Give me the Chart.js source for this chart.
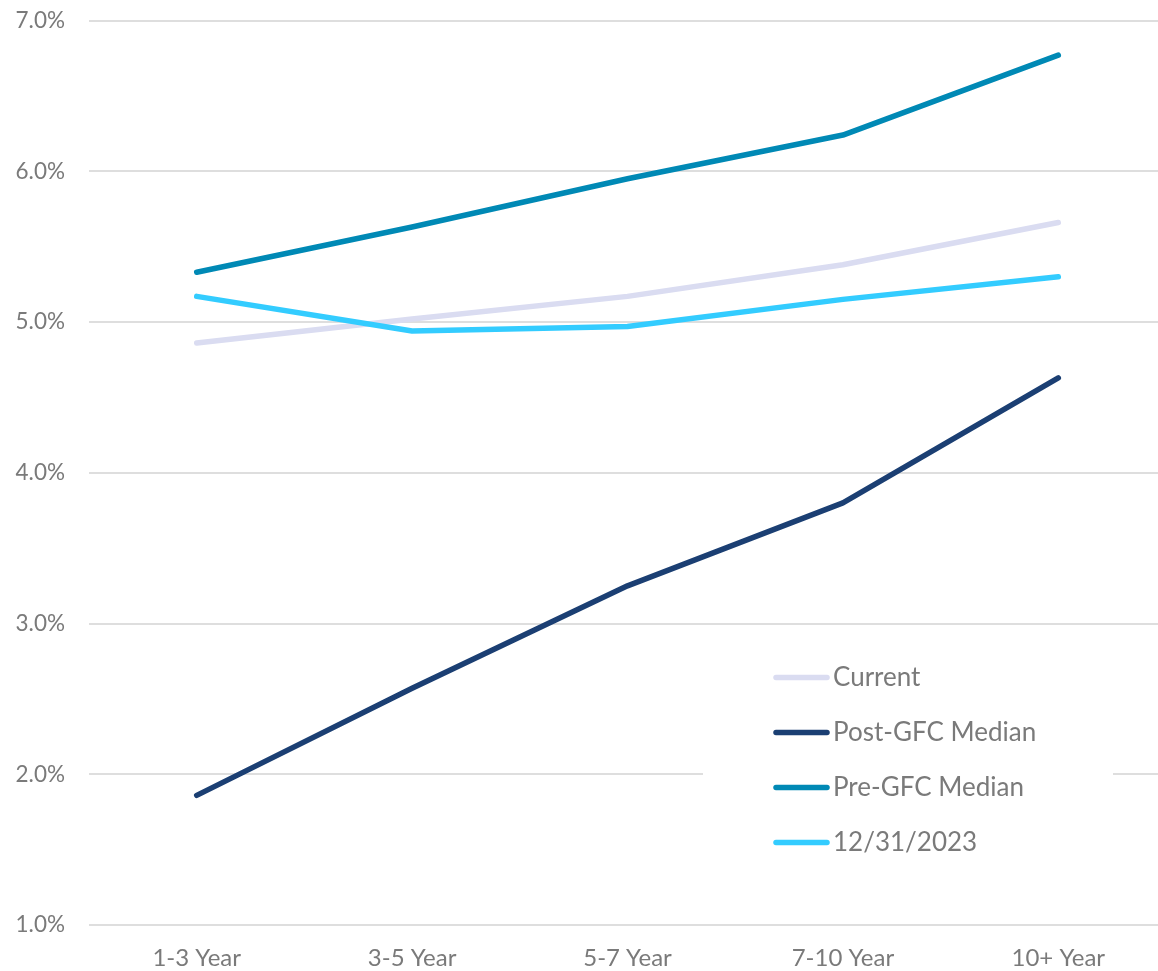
<!DOCTYPE html>
<html>
<head>
<meta charset="utf-8">
<script src="https://cdn.jsdelivr.net/npm/chart.js@4.4.1/dist/chart.umd.min.js"></script>
<style>
  html, body { margin: 0; padding: 0; background: #fff; overflow: hidden; }
  #wrap { position: absolute; left: 0; top: -17px; width: 1166px; height: 988px; }
</style>
</head>
<body>
<div id="wrap"><canvas id="c"></canvas></div>
<script>
// Maturity buckets along the x axis
const categories = ['1-3 Year', '3-5 Year', '5-7 Year', '7-10 Year', '10+ Year'];

// Yields (%) per series
const currentYields = [4.86, 5.02, 5.17, 5.38, 5.66];
const postGfcMedian = [1.86, 2.57, 3.25, 3.80, 4.63];
const preGfcMedian  = [5.33, 5.63, 5.95, 6.24, 6.77];
const yearEnd2023   = [5.17, 4.94, 4.97, 5.15, 5.30];

const seriesNames = ['Current', 'Post-GFC Median', 'Pre-GFC Median', '12/31/2023'];
const seriesColors = ['#dadcf1', '#1b3f73', '#0089b5', '#33ccff'];

const FONT = 'Lato, "Open Sans", sans-serif';
const TEXT_GRAY = '#7a7a7a';

function lineSet(i, values, order) {
  return {
    label: seriesNames[i],
    data: values,
    borderColor: seriesColors[i],
    backgroundColor: seriesColors[i],
    borderWidth: 5.5,
    borderCapStyle: 'round',
    borderJoinStyle: 'round',
    pointRadius: 0,
    pointHoverRadius: 0,
    tension: 0,
    fill: false,
    order: order
  };
}

// Legend drawn inside the plot area on a white panel
const innerLegend = {
  id: 'innerLegend',
  afterDatasetsDraw(chart) {
    const ctx = chart.ctx;
    const dy = chart.chartArea.top - 19; // canvas is shifted up; keep legend in page coordinates
    ctx.save();
    ctx.translate(0, dy);
    ctx.fillStyle = '#ffffff';
    ctx.fillRect(703, 650, 410, 215);
    const x0 = 776, x1 = 827, textX = 833;
    const rows = [676, 731, 786, 841];
    ctx.font = '26px ' + FONT;
    ctx.textBaseline = 'middle';
    ctx.textAlign = 'left';
    seriesNames.forEach((name, i) => {
      ctx.strokeStyle = seriesColors[i];
      ctx.lineWidth = 5.5;
      ctx.lineCap = 'round';
      ctx.beginPath();
      ctx.moveTo(x0, rows[i]);
      ctx.lineTo(x1, rows[i]);
      ctx.stroke();
      ctx.fillStyle = TEXT_GRAY;
      ctx.fillText(name, textX, rows[i]);
    });
    ctx.restore();
  }
};

new Chart(document.getElementById('c'), {
  type: 'line',
  data: {
    labels: categories,
    datasets: [
      lineSet(0, currentYields, 3),
      lineSet(1, postGfcMedian, 2),
      lineSet(2, preGfcMedian, 1),
      lineSet(3, yearEnd2023, 0)
    ]
  },
  options: {
    responsive: true,
    maintainAspectRatio: false,
    animation: false,
    layout: { padding: { top: 8, right: 0, bottom: 0, left: 0 } },
    plugins: {
      legend: { display: false },
      tooltip: { enabled: false }
    },
    scales: {
      x: {
        offset: true,
        grid: { display: false, drawTicks: false },
        border: { display: false },
        ticks: {
          color: TEXT_GRAY,
          font: { family: FONT, size: 24 },
          padding: 19,
          maxRotation: 0
        },
        afterFit(scale) { scale.height = 46; }
      },
      y: {
        min: 1,
        max: 7,
        grid: { color: '#dedede', lineWidth: 2, drawTicks: false },
        border: { display: false },
        ticks: {
          stepSize: 1,
          color: TEXT_GRAY,
          font: { family: FONT, size: 22.5 },
          padding: 24,
          callback: v => v.toFixed(1) + '%'
        },
        afterFit(scale) { scale.width = 89; }
      }
    }
  },
  plugins: [innerLegend]
});
</script>
</body>
</html>
